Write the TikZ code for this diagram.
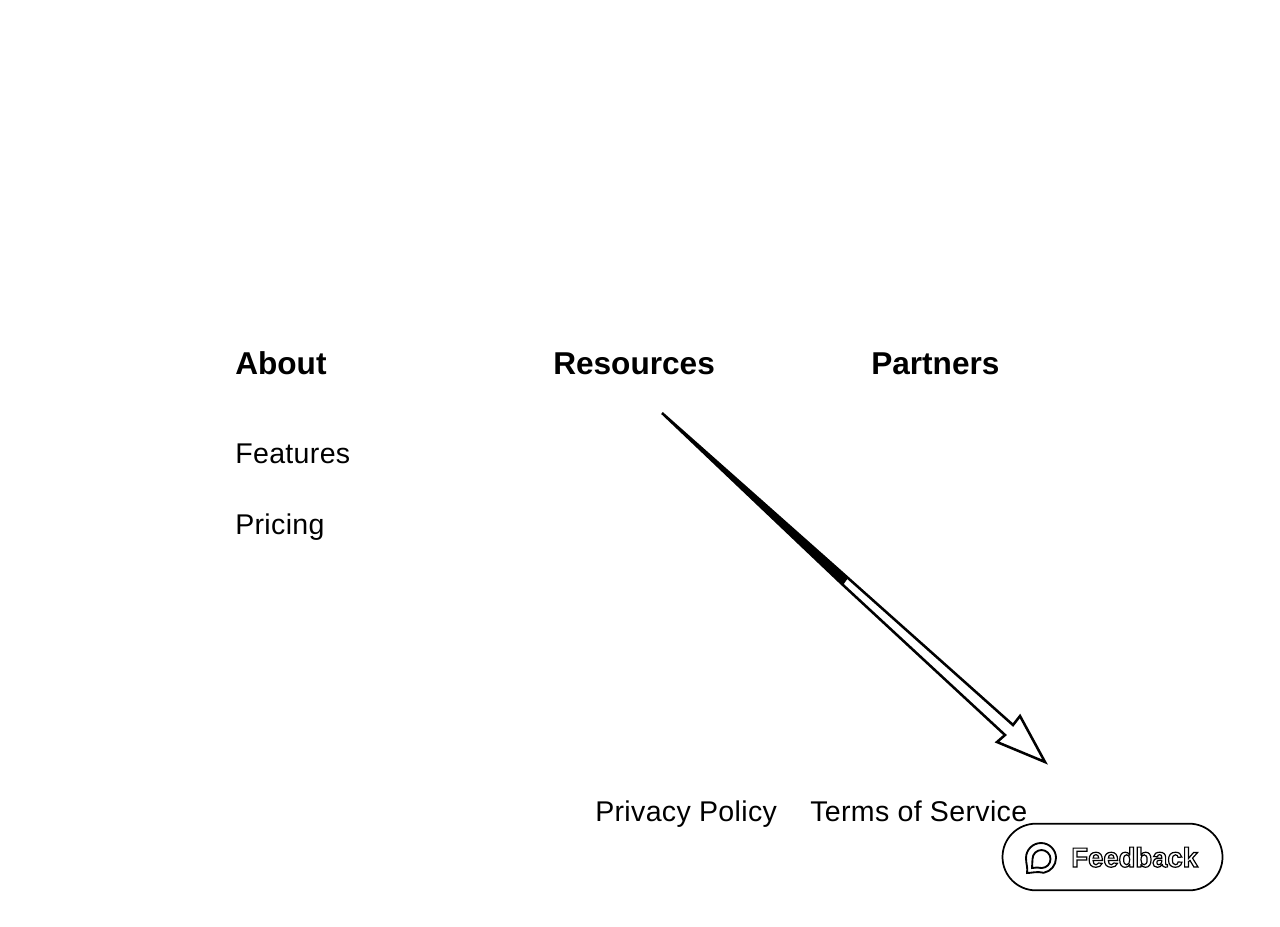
\documentclass[tikz,border=0pt]{standalone}
\usepackage{fontspec}
\setmainfont{Liberation Sans}
\usetikzlibrary{positioning}
\tikzstyle{heading} = [anchor=base west, inner sep=0pt, font=\fontsize{23.7}{28}\selectfont\bfseries]
\tikzstyle{link} = [anchor=base west, inner sep=0pt, font=\fontsize{21.4}{26}\selectfont\addfontfeatures{LetterSpace=1.2}]
\tikzstyle{sketch} = [draw, line width=1.9pt, line join=miter]
\tikzstyle{pill} = [draw, line width=1.3pt, rounded corners=25pt, fill=white, minimum width=165pt, minimum height=50pt]
\tikzstyle{bubble} = [draw, line width=1.4pt]
\newcommand{\hollowtext}[1]{\special{pdf:code q 2 Tr 0.9 w 0 G 1 g}#1\special{pdf:code Q}}
\begin{document}
\begin{tikzpicture}[x=0.75pt, y=-0.75pt]
    \useasboundingbox (0,0) rectangle (1280,926);

    % Place nodes
    \node [heading] (about) at (235,374) {About};
    \node [heading] (resources) at (553,374) {Resources};
    \node [heading] (partners) at (871,374) {Partners};
    \node [link] (features) at (235,463.5) {Features};
    \node [link] (pricing) at (235,534) {Pricing};
    \node [link] (privacy) at (595,821) {Privacy Policy};
    \node [link] (terms) at (810,821) {Terms of Service};
    \node [pill] (feedback-box) at (1112.5,857) {};
    \node [anchor=base west, inner sep=0pt, font=\fontsize{20.6}{25}\selectfont\bfseries] (feedback) at (1071,867) {\hollowtext{Feedback}};

    % Draw the arrow
    \coordinate (tail) at (662,413);
    \coordinate (split-r) at (848,578);
    \coordinate (split-l) at (843,585);
    \coordinate (neck-r) at (1013,725);
    \coordinate (neck-l) at (1005,735);
    \coordinate (barb-r) at (1020,716);
    \coordinate (barb-l) at (997,742);
    \coordinate (tip) at (1045,762);
    \path [sketch] (tail) -- (split-r) -- (neck-r) -- (barb-r) -- (tip) -- (barb-l) -- (neck-l) -- (split-l) -- cycle;
    % the shaft is solid up to the split
    \fill (tail) -- (split-r) -- (split-l) -- cycle;

    % Now the icon of the button
    \path [bubble] (1027,873) .. controls (1028,868) and (1026,864) .. (1026,858)
      arc [start angle=180, end angle=440, radius=15] .. controls (1037,871) and (1032,873) .. cycle;
    \path [bubble] (1032,868) -- (1032.5,859) arc [start angle=180, end angle=450, radius=9]
      -- (1037,867.5) -- cycle;
\end{tikzpicture}
\end{document}
